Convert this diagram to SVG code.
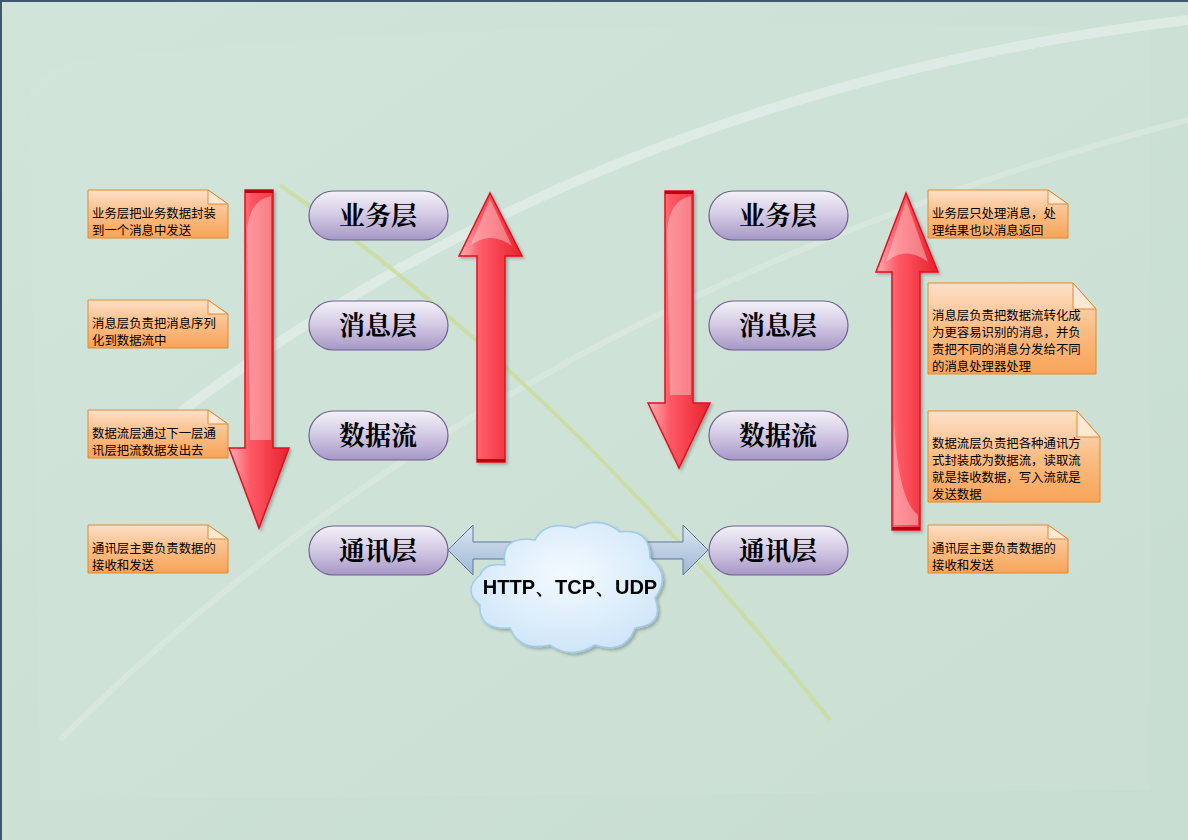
<svg xmlns="http://www.w3.org/2000/svg" width="1188" height="840" viewBox="0 0 1188 840">
<defs>
<linearGradient id="bg" x1="0" y1="0" x2="1" y2="1"><stop offset="0" stop-color="#d0e4d9"/><stop offset="1" stop-color="#c8ddd1"/></linearGradient>
<linearGradient id="note" x1="0" y1="0" x2="0" y2="1"><stop offset="0" stop-color="#fde0c8"/><stop offset="0.5" stop-color="#fbbd86"/><stop offset="1" stop-color="#f8a458"/></linearGradient>
<linearGradient id="pill" x1="0" y1="0" x2="0" y2="1"><stop offset="0" stop-color="#f4f1f8"/><stop offset="0.45" stop-color="#d6cde6"/><stop offset="1" stop-color="#a697c6"/></linearGradient>
<linearGradient id="red" x1="0" y1="0" x2="1" y2="0"><stop offset="0" stop-color="#ffb0b6"/><stop offset="0.35" stop-color="#ff5a66"/><stop offset="1" stop-color="#e8202e"/></linearGradient>
<linearGradient id="blue" x1="0" y1="0" x2="0" y2="1"><stop offset="0" stop-color="#dbe6f3"/><stop offset="1" stop-color="#9fb7d3"/></linearGradient>
<radialGradient id="cloud" cx="0.5" cy="0.4" r="0.6"><stop offset="0" stop-color="#f4faff"/><stop offset="1" stop-color="#cfe6f9"/></radialGradient>
<filter id="sh" x="-20%" y="-20%" width="150%" height="150%"><feDropShadow dx="2" dy="2" stdDeviation="1.5" flood-color="#000" flood-opacity="0.25"/></filter>
</defs>
<style>
.note{fill:url(#note);stroke:#e08a30;stroke-width:1}
.fold{fill:#fde8d4;stroke:#e08a30;stroke-width:1}
.nt{font-family:"Noto Sans CJK SC",sans-serif;font-size:12.4px;fill:#000}
.pill{fill:url(#pill);stroke:#6f6192;stroke-width:1.2}
.pt{font-family:"Noto Serif CJK SC","Noto Sans CJK SC",serif;font-size:26px;font-weight:bold;fill:#000;text-anchor:middle}
.arr{fill:url(#red);stroke:#e0101e;stroke-width:1.5}
.hl{fill:#fff;opacity:0.35}
</style>
<rect width="1188" height="840" fill="url(#bg)"/>
<g id="background" fill="none">
<path d="M30 90 Q40 60 120 55 Q600 10 1150 30 L1150 790 L40 800 Z" fill="#ffffff" opacity="0.04"/>
<path d="M170 420 Q600 90 1188 20" stroke="#e8f2ec" stroke-width="10" opacity="0.6"/>
<path d="M60 740 Q500 300 1188 120" stroke="#e6f1ea" stroke-width="6" opacity="0.4"/>
<path d="M280 185 Q560 380 830 720" stroke="#c9dc9a" stroke-width="4" opacity="0.8"/>
<path d="M0 1 H1188 M1 0 V840" stroke="#3f586b" stroke-width="2"/>
</g>
<g id="connectors">
<g id="arrow-left-down" filter="url(#sh)"><path class="arr" d="M245 190 H273 V448 H289 L259 528 L229 448 H245 Z"/><path class="hl" d="M247 230 Q250 200 271 196 V440 H250 Z"/><rect x="245" y="190" width="28" height="3" fill="#c00010"/></g>
<g id="arrow-left-up" filter="url(#sh)"><path class="arr" d="M490 193 L522 256 H505 V462 H477 V256 H459 Z"/><path class="hl" d="M470 246 Q490 230 512 246 L490 199 Z"/><rect x="477" y="459" width="28" height="3" fill="#c00010"/></g>
<g id="arrow-right-down" filter="url(#sh)"><path class="arr" d="M665 191 H693 V403 H710 L679 468 L648 403 H665 Z"/><path class="hl" d="M667 230 Q670 200 691 196 V395 H670 Z"/><rect x="665" y="191" width="28" height="3" fill="#c00010"/></g>
<g id="arrow-right-up" filter="url(#sh)"><path class="arr" d="M906 193 L938 272 H920 V530 H892 V272 H876 Z"/><path class="hl" d="M886 262 Q906 245 928 262 L906 200 Z"/><path class="hl" d="M894 420 Q898 500 918 515 V525 H894 Z"/><rect x="892" y="527" width="28" height="3" fill="#c00010"/></g>
<g id="arrow-both"><path d="M448 550 L473 525 V542 H683 V525 L708 550 L683 575 V559 H473 V575 Z" fill="url(#blue)" stroke="#5b7a9c" stroke-width="1"/></g>
</g>
<g id="cloud-net" filter="url(#sh)">
<path d="M505 565 Q500 535 535 540 Q545 520 575 528 Q600 515 620 532 Q650 528 650 558 Q672 575 655 598 Q665 625 635 628 Q625 655 595 645 Q572 660 550 645 Q520 652 510 628 Q478 630 480 605 Q462 590 480 575 Q485 562 505 565 Z" fill="url(#cloud)" stroke="#9fcbea" stroke-width="1.5"/>
<text x="570" y="594" font-family="Liberation Sans,Arial,sans-serif" font-size="20" font-weight="bold" text-anchor="middle" fill="#000">HTTP、TCP、UDP</text>
</g>
<g id="pill-l1"><rect class="pill" x="309" y="191" width="139" height="49" rx="24.5"/><text class="pt" x="378" y="225">业务层</text></g>
<g id="pill-l2"><rect class="pill" x="309" y="301" width="139" height="49" rx="24.5"/><text class="pt" x="378" y="335">消息层</text></g>
<g id="pill-l3"><rect class="pill" x="309" y="411" width="139" height="49" rx="24.5"/><text class="pt" x="378" y="445">数据流</text></g>
<g id="pill-l4"><rect class="pill" x="309" y="526" width="139" height="49" rx="24.5"/><text class="pt" x="378" y="560">通讯层</text></g>
<g id="pill-r1"><rect class="pill" x="709" y="191" width="139" height="49" rx="24.5"/><text class="pt" x="778" y="225">业务层</text></g>
<g id="pill-r2"><rect class="pill" x="709" y="301" width="139" height="49" rx="24.5"/><text class="pt" x="778" y="335">消息层</text></g>
<g id="pill-r3"><rect class="pill" x="709" y="411" width="139" height="49" rx="24.5"/><text class="pt" x="778" y="445">数据流</text></g>
<g id="pill-r4"><rect class="pill" x="709" y="526" width="139" height="49" rx="24.5"/><text class="pt" x="778" y="560">通讯层</text></g>
<g id="note-l1"><path class="note" d="M88 190 H208 L228 204 V238 H88 Z"/><path class="fold" d="M208 190 L228 204 H208 Z"/><text class="nt" x="92" y="218">业务层把业务数据封装</text><text class="nt" x="92" y="235">到一个消息中发送</text></g>
<g id="note-l2"><path class="note" d="M88 300 H208 L228 314 V348 H88 Z"/><path class="fold" d="M208 300 L228 314 H208 Z"/><text class="nt" x="92" y="328">消息层负责把消息序列</text><text class="nt" x="92" y="345">化到数据流中</text></g>
<g id="note-l3"><path class="note" d="M88 410 H208 L228 424 V458 H88 Z"/><path class="fold" d="M208 410 L228 424 H208 Z"/><text class="nt" x="92" y="438">数据流层通过下一层通</text><text class="nt" x="92" y="455">讯层把流数据发出去</text></g>
<g id="note-l4"><path class="note" d="M88 525 H208 L228 539 V573 H88 Z"/><path class="fold" d="M208 525 L228 539 H208 Z"/><text class="nt" x="92" y="553">通讯层主要负责数据的</text><text class="nt" x="92" y="570">接收和发送</text></g>
<g id="note-r1"><path class="note" d="M928 190 H1048 L1068 204 V238 H928 Z"/><path class="fold" d="M1048 190 L1068 204 H1048 Z"/><text class="nt" x="932" y="218">业务层只处理消息，处</text><text class="nt" x="932" y="235">理结果也以消息返回</text></g>
<g id="note-r2"><path class="note" d="M928 283 H1073 L1096 309 V374 H928 Z"/><path class="fold" d="M1073 283 L1096 309 H1073 Z"/><text class="nt" x="932" y="320">消息层负责把数据流转化成</text><text class="nt" x="932" y="337">为更容易识别的消息，并负</text><text class="nt" x="932" y="354">责把不同的消息分发给不同</text><text class="nt" x="932" y="371">的消息处理器处理</text></g>
<g id="note-r3"><path class="note" d="M928 411 H1077 L1100 437 V502 H928 Z"/><path class="fold" d="M1077 411 L1100 437 H1077 Z"/><text class="nt" x="932" y="448">数据流层负责把各种通讯方</text><text class="nt" x="932" y="465">式封装成为数据流，读取流</text><text class="nt" x="932" y="482">就是接收数据，写入流就是</text><text class="nt" x="932" y="499">发送数据</text></g>
<g id="note-r4"><path class="note" d="M928 525 H1048 L1068 539 V573 H928 Z"/><path class="fold" d="M1048 525 L1068 539 H1048 Z"/><text class="nt" x="932" y="553">通讯层主要负责数据的</text><text class="nt" x="932" y="570">接收和发送</text></g>
</svg>
